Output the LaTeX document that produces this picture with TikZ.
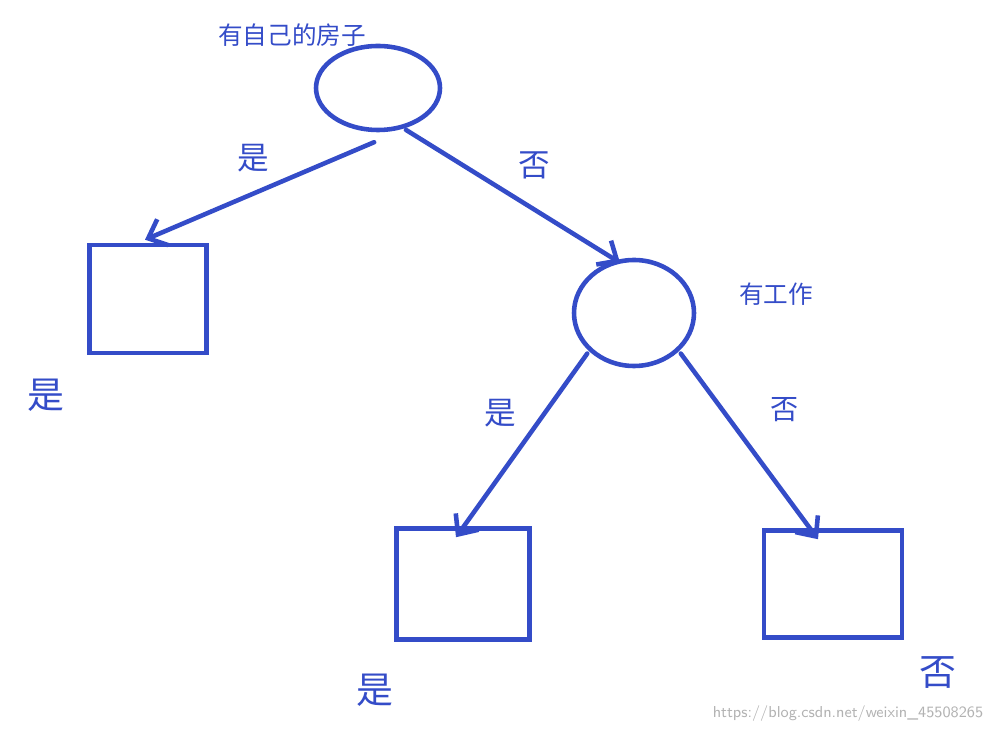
\documentclass[tikz,border=0pt]{standalone}
\usepackage{fontspec}
\newfontfamily\cjk{Noto Sans CJK SC}
\usetikzlibrary{arrows.meta,shapes.geometric}
\definecolor{pen}{RGB}{52,76,200}
\begin{document}
\begin{tikzpicture}[x=0.02cm,y=-0.02cm,
  stroke/.style={draw=pen,line width=2.6pt},
  oval/.style={stroke,ellipse,inner sep=0pt},
  leaf/.style={stroke,rectangle,inner sep=0pt},
  arr/.style={draw=pen,line width=2.6pt,line cap=round,-{Straight Barb[length=9pt,width=16pt,line width=2.6pt]}},
  lbl/.style={text=pen,font=\cjk\fontsize{14}{16}\selectfont,inner sep=0pt},
  mid/.style={text=pen,font=\cjk\fontsize{18}{20}\selectfont,inner sep=0pt},
  big/.style={text=pen,font=\cjk\fontsize{21}{24}\selectfont,inner sep=0pt}]
\useasboundingbox (0,0) rectangle (993,732);
\node[oval,minimum width=124*0.02cm,minimum height=84*0.02cm] (e1) at (378,88) {};
\node[oval,minimum width=120*0.02cm,minimum height=106*0.02cm] (e2) at (634,313) {};
\node[leaf,minimum width=117*0.02cm,minimum height=108*0.02cm] (b1) at (148,299) {};
\node[leaf,minimum width=133*0.02cm,minimum height=111*0.02cm] (b2) at (463,584) {};
\node[leaf,minimum width=138*0.02cm,minimum height=107*0.02cm] (b3) at (833,584) {};
\node[lbl] (t1) at (292,35) {有自己的房子};
\node[lbl] (t2) at (776,294) {有工作};
\draw[arr] ([yshift=-10*0.02cm]e1.-95) -- ([yshift=3*0.02cm,xshift=-3*0.02cm]b1.north);
\draw[arr] ([yshift=-2*0.02cm]e1.-55) -- ([xshift=-14*0.02cm,yshift=-5*0.02cm]e2.north);
\draw[arr] ([yshift=-4*0.02cm]e2.-142) -- ([xshift=-7*0.02cm,yshift=-11*0.02cm]b2.north);
\draw[arr] ([yshift=-4*0.02cm]e2.-38) -- ([xshift=-15*0.02cm,yshift=-11*0.02cm]b3.north);
\node[mid] (l1) at (253,158) {是};
\node[mid] (l2) at (534,165) {否};
\node[mid] (l3) at (500,413) {是};
\node[lbl,font=\cjk\fontsize{16}{18}\selectfont] (l4) at (785,410) {否};
\node[big] (r1) at (46,395) {是};
\node[big] (r2) at (375,690) {是};
\node[big] (r3) at (938,673) {否};
\node[text=gray!60,font=\sffamily\fontsize{9}{10}\selectfont,inner sep=0pt] (wm) at (848,714) {https://blog.csdn.net/weixin\_45508265};
\end{tikzpicture}
\end{document}
